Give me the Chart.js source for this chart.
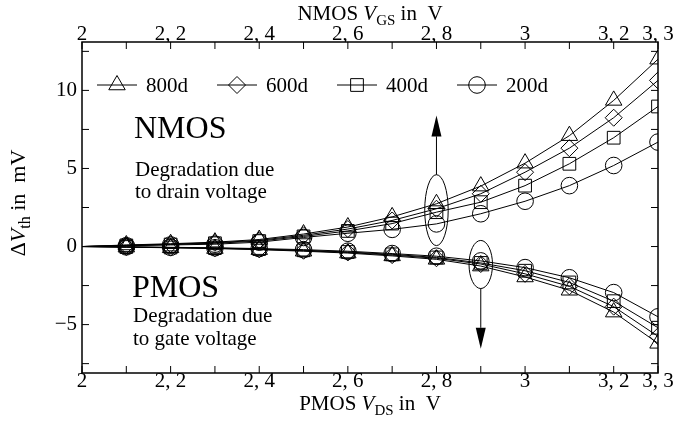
<!DOCTYPE html>
<html><head><meta charset="utf-8">
<script src="https://cdn.jsdelivr.net/npm/chart.js@4/dist/chart.umd.min.js"></script>
<style>html,body{margin:0;padding:0;background:#fff;}#wrap{width:676px;height:426px;position:relative;}</style>
</head><body><div id="wrap"><canvas id="c"></canvas></div>
<script>
// ---- data ----
const vds = [2.0, 2.1, 2.2, 2.3, 2.4, 2.5, 2.6, 2.7, 2.8, 2.9, 3.0, 3.1, 3.2, 3.3];
const nmos800 = [0, 0.10, 0.18, 0.28, 0.45, 0.80, 1.25, 1.90, 2.74, 3.87, 5.34, 7.10, 9.36, 12.0];
const nmos600 = [0, 0.08, 0.15, 0.24, 0.40, 0.72, 1.12, 1.67, 2.42, 3.38, 4.76, 6.30, 8.25, 10.64];
const nmos400 = [0, 0.07, 0.13, 0.21, 0.35, 0.65, 1.00, 1.47, 2.20, 2.84, 3.90, 5.30, 6.97, 8.97];
const nmos200 = [0, 0.05, 0.10, 0.15, 0.28, 0.58, 0.85, 1.10, 1.45, 2.10, 2.90, 3.90, 5.19, 6.69];
const pmos800 = [0, -0.04, -0.08, -0.13, -0.20, -0.30, -0.42, -0.60, -0.82, -1.25, -1.95, -2.80, -4.20, -6.20];
const pmos600 = [0, -0.03, -0.07, -0.11, -0.18, -0.27, -0.38, -0.55, -0.75, -1.12, -1.75, -2.55, -3.85, -5.75];
const pmos400 = [0, -0.03, -0.06, -0.10, -0.16, -0.24, -0.35, -0.50, -0.70, -1.05, -1.55, -2.30, -3.50, -5.20];
const pmos200 = [0, -0.02, -0.05, -0.08, -0.13, -0.20, -0.30, -0.45, -0.62, -0.92, -1.35, -2.00, -2.95, -4.50];
const seriesNames = ['800d', '600d', '400d', '200d'];
const xTickLabels = [2.0, 2.2, 2.4, 2.6, 2.8, 3.0, 3.2, 3.3];
const xMinorTicks = [2.0, 2.1, 2.2, 2.3, 2.4, 2.5, 2.6, 2.7, 2.8, 2.9, 3.0, 3.1, 3.2, 3.3];
const yTickLabels = [-5, 0, 5, 10];
const yMinorTicks = [-7.5, -5, -2.5, 0, 2.5, 5, 7.5, 10, 12.5];

const FONT = '"Liberation Serif", "Times New Roman", serif';
const styles = ['triangle', 'rectRot', 'rect', 'circle'];
const radii = [9.5, 8.5, 9, 8.3];

function mk(arr, k) {
  return {
    label: seriesNames[k],
    data: vds.map((x, i) => ({x: x, y: arr[i]})),
    borderColor: '#000', borderWidth: 1,
    backgroundColor: 'rgba(0,0,0,0)',
    pointStyle: styles[k],
    pointRadius: ctx => ctx.dataIndex === 0 ? 0 : radii[k],
    pointBorderColor: '#000', pointBackgroundColor: 'rgba(0,0,0,0)',
    pointBorderWidth: 1, tension: 0, fill: false, xAxisID: 'x', yAxisID: 'y'
  };
}
const nm = [nmos800, nmos600, nmos400, nmos200];
const pm = [pmos800, pmos600, pmos400, pmos200];
const datasets = [];
nm.forEach((a, k) => datasets.push(mk(a, k)));
pm.forEach((a, k) => datasets.push(mk(a, k)));

function fmtX(v) {
  const s = (Math.round(v * 10) / 10).toString();
  return s.replace('.', ', ');
}

function drawRich(ctx, parts, x, y, size) {
  const subSize = Math.round(size * 0.72);
  let w = 0;
  const meas = parts.map(p => {
    ctx.font = (p[1] ? 'italic ' : '') + (p[2] ? subSize : size) + 'px ' + FONT;
    const m = ctx.measureText(p[0]).width; w += m; return m;
  });
  let cx = x - w / 2;
  parts.forEach((p, i) => {
    ctx.font = (p[1] ? 'italic ' : '') + (p[2] ? subSize : size) + 'px ' + FONT;
    ctx.fillText(p[0], cx, y + (p[2] ? size * 0.22 : 0));
    cx += meas[i];
  });
}

function marker(ctx, style, r, x, y) {
  ctx.save();
  ctx.fillStyle = 'rgba(0,0,0,0)'; ctx.strokeStyle = '#000'; ctx.lineWidth = 1;
  if (Chart.helpers && Chart.helpers.drawPoint) {
    Chart.helpers.drawPoint(ctx, {pointStyle: style, radius: r, borderWidth: 1, rotation: 0}, x, y);
  }
  ctx.restore();
}

const deco = {
  id: 'deco',
  afterDraw(chart) {
    const ctx = chart.ctx, a = chart.chartArea;
    const xs = chart.scales.x, ys = chart.scales.y;
    ctx.save();
    ctx.strokeStyle = '#000'; ctx.fillStyle = '#000';
    ctx.lineWidth = 1.5;
    ctx.strokeRect(a.left, a.top, a.right - a.left, a.bottom - a.top);
    ctx.lineWidth = 1;
    ctx.beginPath();
    xMinorTicks.forEach(v => {
      const px = xs.getPixelForValue(v);
      ctx.moveTo(px, a.bottom); ctx.lineTo(px, a.bottom - 7);
      ctx.moveTo(px, a.top); ctx.lineTo(px, a.top + 7);
    });
    yMinorTicks.forEach(v => {
      const py = ys.getPixelForValue(v);
      ctx.moveTo(a.left, py); ctx.lineTo(a.left + 7, py);
      ctx.moveTo(a.right, py); ctx.lineTo(a.right - 7, py);
    });
    ctx.stroke();

    // legend
    ctx.textBaseline = 'alphabetic';
    ctx.textAlign = 'left';
    seriesNames.forEach((n, k) => {
      const cx = 117 + 120 * k, cy = 85;
      ctx.beginPath(); ctx.moveTo(cx - 20, cy); ctx.lineTo(cx + 20, cy); ctx.lineWidth = 1; ctx.stroke();
      marker(ctx, styles[k], radii[k], cx, cy);
      ctx.fillStyle = '#000';
      ctx.font = '21px ' + FONT;
      ctx.fillText(n, cx + 29, 92);
    });

    // annotation texts
    ctx.font = '32px ' + FONT;
    ctx.fillText('NMOS', 134, 138);
    ctx.font = '21px ' + FONT;
    ctx.fillText('Degradation due', 135, 176);
    ctx.fillText('to drain voltage', 135, 198);
    ctx.font = '32px ' + FONT;
    ctx.fillText('PMOS', 132, 297);
    ctx.font = '21px ' + FONT;
    ctx.fillText('Degradation due', 133, 322);
    ctx.fillText('to gate voltage', 133, 345);

    // ellipses & arrows
    ctx.lineWidth = 1;
    function ell(xv, yv, rxv, ryv, tipv) {
      const cx = xs.getPixelForValue(xv), cy = ys.getPixelForValue(yv);
      const rx = Math.abs(xs.getPixelForValue(xv + rxv) - cx);
      const ry = Math.abs(ys.getPixelForValue(yv + ryv) - cy);
      ctx.beginPath(); ctx.ellipse(cx, cy, rx, ry, 0, 0, Math.PI * 2); ctx.stroke();
      const tip = ys.getPixelForValue(tipv);
      const dir = tip < cy ? -1 : 1;
      const start = cy + dir * ry;
      const headLen = 21;
      ctx.beginPath(); ctx.moveTo(cx, start); ctx.lineTo(cx, tip - dir * headLen); ctx.stroke();
      ctx.beginPath(); ctx.moveTo(cx, tip); ctx.lineTo(cx - 5, tip - dir * headLen); ctx.lineTo(cx + 5, tip - dir * headLen); ctx.closePath(); ctx.fill();
    }
    ell(2.8, 2.33, 0.0265, 2.27, 8.4);
    ell(2.9, -1.15, 0.0265, 1.54, -6.55);

    // axis titles
    ctx.fillStyle = '#000';
    drawRich(ctx, [['NMOS ', 0, 0], ['V', 1, 0], ['GS', 0, 1], [' in  V', 0, 0]], (a.left + a.right) / 2, 20, 21);
    drawRich(ctx, [['PMOS ', 0, 0], ['V', 1, 0], ['DS', 0, 1], [' in  V', 0, 0]], (a.left + a.right) / 2, 410, 21);
    ctx.save();
    ctx.translate(25, 203);
    ctx.rotate(-Math.PI / 2);
    drawRich(ctx, [['Δ', 0, 0], ['V', 1, 0], ['th', 0, 1], [' in  mV', 0, 0]], 0, 0, 22);
    ctx.restore();
    ctx.restore();
  }
};

new Chart(document.getElementById('c'), {
  type: 'line',
  data: {datasets: datasets},
  options: {
    responsive: true, maintainAspectRatio: false, animation: false,
    layout: {padding: {left: 0, right: 18, top: 0, bottom: 0}},
    plugins: {legend: {display: false}, tooltip: {enabled: false}},
    scales: {
      x: {
        type: 'linear', position: 'bottom', min: 2.0, max: 3.3,
        afterBuildTicks: s => { s.ticks = xTickLabels.map(v => ({value: v})); },
        afterFit: s => { s.height = 53; },
        grid: {display: false, drawTicks: false}, border: {display: false},
        ticks: {autoSkip: false, maxRotation: 0, padding: -2, color: '#000', font: {family: FONT, size: 21, lineHeight: 1}, callback: v => fmtX(v)}
      },
      x2: {
        type: 'linear', position: 'top', min: 2.0, max: 3.3,
        afterBuildTicks: s => { s.ticks = xTickLabels.map(v => ({value: v})); },
        afterFit: s => { s.height = 42; },
        grid: {display: false, drawTicks: false}, border: {display: false},
        ticks: {autoSkip: false, maxRotation: 0, padding: -2.5, color: '#000', font: {family: FONT, size: 21, lineHeight: 1}, callback: v => fmtX(v)}
      },
      y: {
        type: 'linear', position: 'left', min: -8.1, max: 13.1,
        afterBuildTicks: s => { s.ticks = yTickLabels.map(v => ({value: v})); },
        afterFit: s => { s.width = 82; },
        grid: {display: false, drawTicks: false}, border: {display: false},
        ticks: {padding: 5, color: '#000', font: {family: FONT, size: 21}, callback: v => String(v).replace('-', '\u2212')}
      }
    }
  },
  plugins: [deco]
});
</script>
</body></html>
